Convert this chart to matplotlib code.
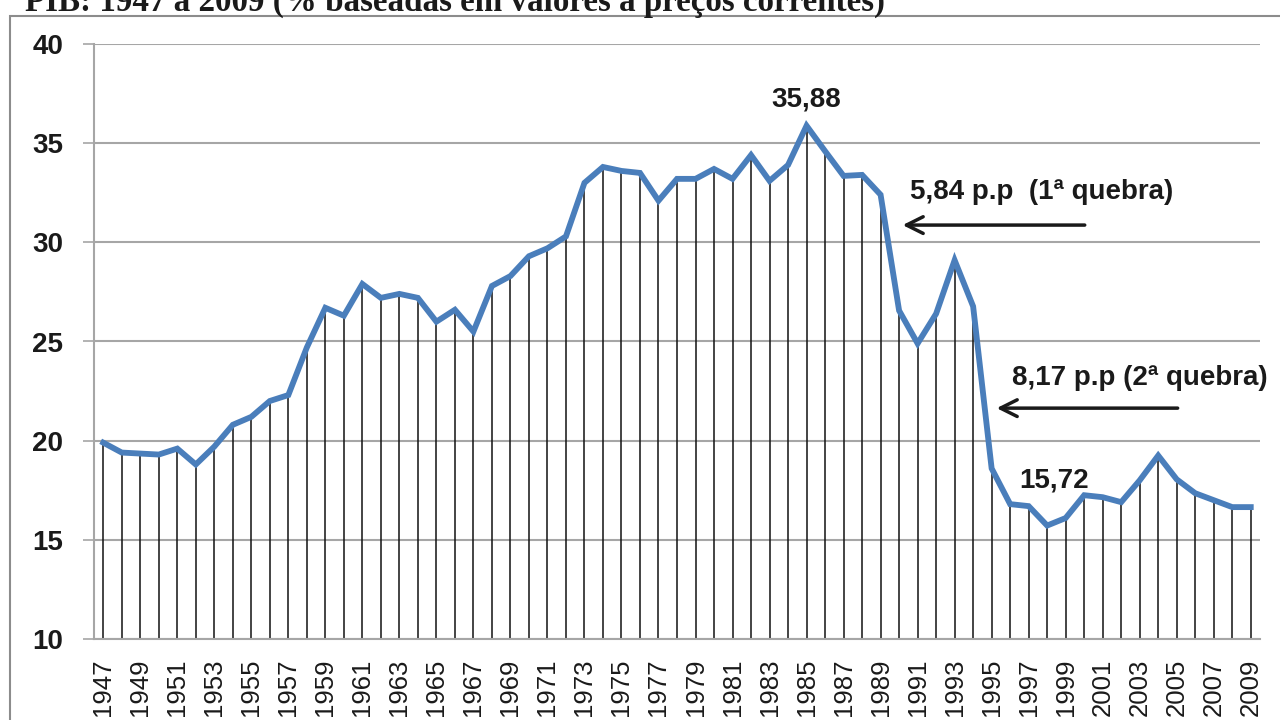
import matplotlib.pyplot as plt
from matplotlib.patches import Rectangle

years = list(range(1947, 2010))
share = [
    19.9, 19.4, 19.35, 19.3, 19.6, 18.8, 19.7, 20.8, 21.2, 22.0,
    22.3, 24.7, 26.7, 26.3, 27.9, 27.2, 27.4, 27.2, 26.0, 26.6,
    25.5, 27.8, 28.3, 29.3, 29.7, 30.3, 33.0, 33.8, 33.6, 33.5,
    32.1, 33.2, 33.2, 33.7, 33.2, 34.4, 33.1, 33.9, 35.88, 34.6,
    33.35, 33.4, 32.4, 26.56, 24.9, 26.4, 29.1, 26.77, 18.6, 16.8,
    16.7, 15.72, 16.1, 17.25, 17.15, 16.9, 18.0, 19.25, 18.05, 17.35,
    17.0, 16.65, 16.65,
]
tick_years = years[::2]
y_ticks = [10, 15, 20, 25, 30, 35, 40]

title = 'PIB: 1947 a 2009 (% baseadas em valores a preços correntes)'
peak_label = '35,88'
low_label = '15,72'
break1_label = '5,84 p.p  (1ª quebra)'
break2_label = '8,17 p.p (2ª quebra)'

blue = '#4a7ebb'
grid_gray = '#a6a6a6'
ink = '#1a1a1a'

plt.rcParams['font.family'] = ['Liberation Sans', 'DejaVu Sans']

fig = plt.figure(figsize=(12.8, 7.2), dpi=100)
ax = fig.add_axes([94 / 1280, 1 - 639 / 720, (1260 - 94) / 1280, (639 - 44) / 720])

# outer frame, cut off at right and bottom like the scan
fig.patches.append(Rectangle((10 / 1280, -0.2), 1.2, 1.2 - 16 / 720,
                             transform=fig.transFigure, fill=False,
                             edgecolor='#8c8c8c', lw=1.5))

# title is cropped at the top edge in the source image
fig.text(25 / 1280, 1 - 11 / 720, title, family='Liberation Serif',
         fontweight='bold', fontsize=23.8, ha='left', va='baseline', color=ink)

ax.set_xlim(1946.5, 2009.5)
ax.set_ylim(10, 40)
ax.set_yticks(y_ticks)
ax.set_yticklabels([str(v) for v in y_ticks], fontsize=20, fontweight='bold',
                   color=ink)
ax.set_xticks(tick_years)
ax.set_xticklabels([str(y) for y in tick_years], rotation=90, fontsize=18.5,
                   color=ink)
ax.tick_params(axis='y', length=8, color=grid_gray, width=1.2, pad=14)
ax.tick_params(axis='x', length=0, pad=14)

ax.grid(True, axis='y', color=grid_gray, lw=1.5, zorder=0)
for side in ['top', 'right']:
    ax.spines[side].set_visible(False)
for side in ['left', 'bottom']:
    ax.spines[side].set_color(grid_gray)
    ax.spines[side].set_linewidth(1.5)

ax.vlines(years, 10, share, color='#111111', lw=1.1, zorder=2)
ax.plot(years, share, color=blue, lw=4.2, solid_joinstyle='miter', zorder=3)

txt = dict(fontsize=20, fontweight='bold', color=ink, va='center')
ax.text(1985, 37.2, peak_label, ha='center', **txt)
ax.text(1998.35, 18.0, low_label, ha='center', **txt)
ax.text(1990.57, 32.54, break1_label, ha='left', **txt)
ax.text(1996.1, 23.16, break2_label, ha='left', clip_on=False, **txt)

arrow = dict(arrowstyle='->', lw=2.5, color=ink, mutation_scale=30,
             shrinkA=0, shrinkB=0)
ax.annotate('', xy=(1990.19, 30.87), xytext=(2000.03, 30.87), arrowprops=arrow)
ax.annotate('', xy=(1995.27, 21.64), xytext=(2005.05, 21.64), arrowprops=arrow)

fig.savefig('out.png', dpi=100)
